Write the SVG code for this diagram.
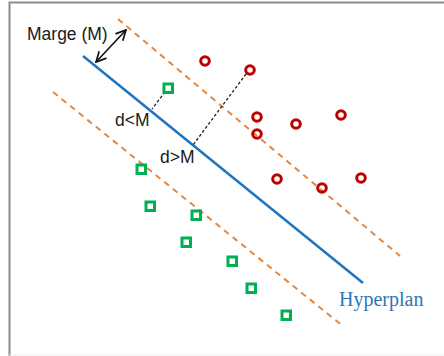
<svg xmlns="http://www.w3.org/2000/svg" width="444" height="356" viewBox="0 0 444 356">
<defs>
<style>
.frame{stroke:#8c8c8c;stroke-width:2;fill:none}
.hyper{stroke:#1f74c2;stroke-width:2.5;fill:none}
.margin{stroke:#e5873f;stroke-width:2;stroke-dasharray:6 5;fill:none}
.dist{stroke:#222;stroke-width:1.3;stroke-dasharray:3 2;fill:none}
.red{fill:none;stroke:#c00000;stroke-width:3}
.green{fill:none;stroke:#00b050;stroke-width:3}
.lbl{font-family:"Liberation Sans",Arial,sans-serif;font-size:17.5px;fill:#1a1a1a}
.hyp{font-family:"Liberation Serif","Times New Roman",serif;font-size:20px;fill:#2e75b6}
</style>
<marker id="chev" viewBox="0 0 12 12" refX="11" refY="6" markerWidth="12" markerHeight="12" markerUnits="userSpaceOnUse" orient="auto-start-reverse">
<path d="M1,1 L11,6 L1,11" fill="none" stroke="#111" stroke-width="1.7"/>
</marker>
</defs>
<rect width="444" height="356" fill="#fff"/>
<path class="frame" d="M9.5,356 V2.5 H444"/>
<line x1="9" y1="355" x2="444" y2="355" stroke="#eeeeee" stroke-width="1"/>
<g id="connectors">
<line id="hyperplan-line" class="hyper" x1="83" y1="56" x2="363" y2="283"/>
<line id="upper-margin" class="margin" x1="118" y1="19" x2="400" y2="256"/>
<line id="lower-margin" class="margin" x1="53" y1="92" x2="344" y2="327"/>
<line id="marge-arrow" x1="96" y1="62" x2="126" y2="30" stroke="#111" stroke-width="1.6" marker-start="url(#chev)" marker-end="url(#chev)"/>
<line id="d-small" class="dist" x1="165" y1="92" x2="152" y2="109"/>
<line id="d-large" class="dist" x1="246" y1="74" x2="193" y2="145"/>
</g>
<g id="labels">
<text class="lbl" x="27" y="40">Marge (M)</text>
<text class="lbl" x="115" y="126">d&lt;M</text>
<text class="lbl" x="160" y="163">d&gt;M</text>
<text class="hyp" x="339" y="306">Hyperplan</text>
</g>
<g id="red-points">
<circle class="red" cx="205" cy="61" r="4.3"/>
<circle class="red" cx="250" cy="70" r="4.3"/>
<circle class="red" cx="257" cy="117" r="4.3"/>
<circle class="red" cx="257" cy="134" r="4.3"/>
<circle class="red" cx="296" cy="124" r="4.3"/>
<circle class="red" cx="341" cy="115" r="4.3"/>
<circle class="red" cx="277" cy="179" r="4.3"/>
<circle class="red" cx="322" cy="188" r="4.3"/>
<circle class="red" cx="361" cy="178" r="4.3"/>
</g>
<g id="green-points">
<rect class="green" x="164" y="84" width="8.5" height="8.5"/>
<rect class="green" x="137" y="165" width="8.5" height="8.5"/>
<rect class="green" x="146" y="202" width="8.5" height="8.5"/>
<rect class="green" x="192" y="211" width="8.5" height="8.5"/>
<rect class="green" x="182" y="238" width="8.5" height="8.5"/>
<rect class="green" x="228" y="257" width="8.5" height="8.5"/>
<rect class="green" x="247" y="284" width="8.5" height="8.5"/>
<rect class="green" x="282" y="311" width="8.5" height="8.5"/>
</g>
</svg>
